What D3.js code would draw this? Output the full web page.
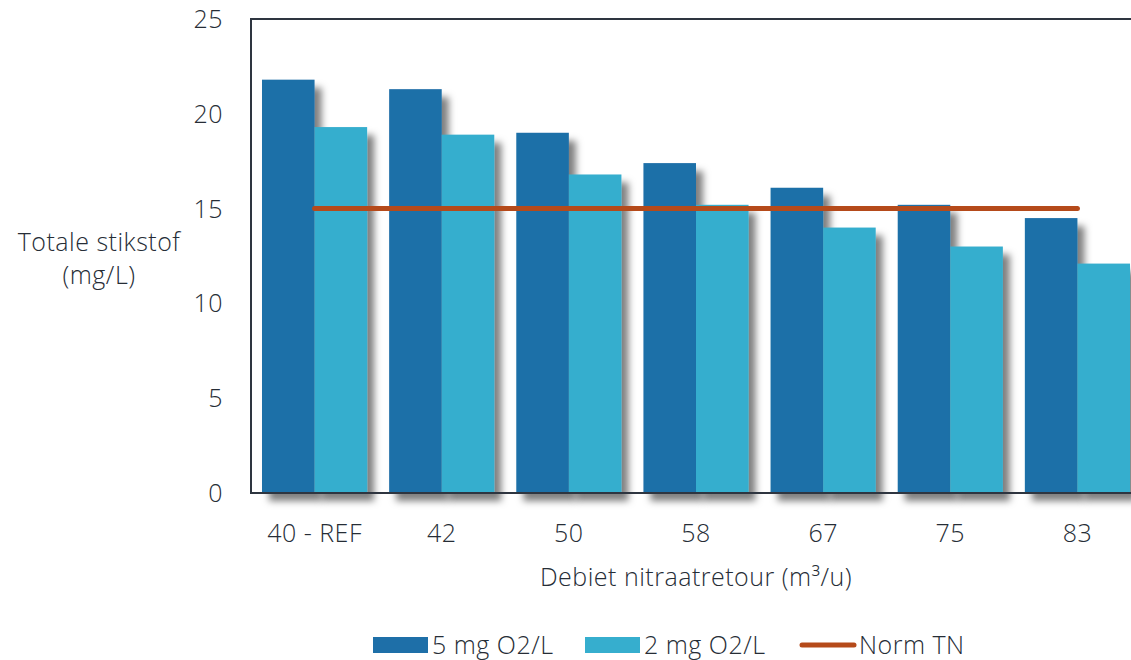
<!DOCTYPE html>
<html>
<head>
<meta charset="utf-8">
<script src="https://cdn.jsdelivr.net/npm/d3@7"></script>
<style>
  html, body { margin: 0; padding: 0; background: #ffffff; }
  svg { display: block; }
  text { font-family: "Open Sans", "Noto Sans", sans-serif; font-weight: 300; fill: #262d36; letter-spacing: 0.5px; }
</style>
</head>
<body>
<svg id="chart" width="1131" height="660"></svg>
<script>
// Flow of the nitrate return and measured total nitrogen per oxygen setpoint
const categories = ["40 - REF", "42", "50", "58", "67", "75", "83"];
const series = ["5 mg O2/L", "2 mg O2/L"];
const values5 = [21.8, 21.3, 19.0, 17.4, 16.1, 15.2, 14.5];
const values2 = [19.3, 18.9, 16.8, 15.2, 14.0, 13.0, 12.1];
const normTN = [15, 15, 15, 15, 15, 15, 15];
const yTicks = [0, 5, 10, 15, 20, 25];

const colors = { "5 mg O2/L": "#1e6fa8", "2 mg O2/L": "#36aece", norm: "#b54a1a" };
const fontSize = "25px";

const svg = d3.select("#chart");

const plot = { left: 251, top: 19, right: 1141, bottom: 493 };

const x0 = d3.scaleBand()
  .domain(categories)
  .range([plot.left, plot.right])
  .paddingInner(0.173)
  .paddingOuter(0.0865);

const x1 = d3.scaleBand()
  .domain(series)
  .range([0, x0.bandwidth()]);

const y = d3.scaleLinear().domain([0, 25]).range([plot.bottom, plot.top]);

// drop shadow used by the bars
const defs = svg.append("defs");
const f = defs.append("filter").attr("id", "shadow")
  .attr("x", "-20%").attr("y", "-10%").attr("width", "160%").attr("height", "130%");
f.append("feDropShadow")
  .attr("dx", 7).attr("dy", 8).attr("stdDeviation", 3.5)
  .attr("flood-color", "#000").attr("flood-opacity", 0.5);

const rows = categories.map((c, i) => ({ cat: c, vals: [values5[i], values2[i]] }));

// bars
const groups = svg.append("g").attr("class", "bars")
  .selectAll("g").data(rows).join("g")
  .attr("transform", d => `translate(${x0(d.cat)},0)`);

groups.selectAll("rect")
  .data(d => d.vals.map((v, j) => ({ key: series[j], v })))
  .join("rect")
  .attr("x", d => x1(d.key))
  .attr("y", d => y(d.v))
  .attr("width", x1.bandwidth())
  .attr("height", d => y(0) - y(d.v))
  .attr("fill", d => colors[d.key])
  .attr("filter", "url(#shadow)");

// frame: left axis, top and bottom borders
const frameColor = "#2e3540";
svg.append("line").attr("x1", plot.left).attr("x2", plot.right)
  .attr("y1", plot.top).attr("y2", plot.top)
  .attr("stroke", frameColor).attr("stroke-width", 2);
svg.append("line").attr("x1", plot.left).attr("x2", plot.right)
  .attr("y1", plot.bottom).attr("y2", plot.bottom)
  .attr("stroke", frameColor).attr("stroke-width", 2);
svg.append("line").attr("x1", plot.left).attr("x2", plot.left)
  .attr("y1", plot.top - 1).attr("y2", plot.bottom + 1)
  .attr("stroke", frameColor).attr("stroke-width", 2);

// norm line through the category centres
const line = d3.line()
  .x((d, i) => x0(categories[i]) + x0.bandwidth() / 2)
  .y(d => y(d));
svg.append("path").datum(normTN)
  .attr("d", line)
  .attr("fill", "none")
  .attr("stroke", colors.norm)
  .attr("stroke-width", 5)
  .attr("stroke-linecap", "round");

// y axis ticks
const yAxis = d3.axisLeft(y).tickValues(yTicks).tickSize(0).tickPadding(0);
const gy = svg.append("g").attr("transform", `translate(${plot.left - 28},0)`).call(yAxis);
gy.select(".domain").remove();
gy.attr("font-family", null).attr("font-size", null);
gy.selectAll("text").style("font-size", fontSize).attr("fill", null).attr("dy", "0.34em");

// x axis labels
const xAxis = d3.axisBottom(x0).tickSize(0).tickPadding(0);
const gx = svg.append("g").attr("transform", `translate(0,${plot.bottom + 40})`).call(xAxis);
gx.select(".domain").remove();
gx.attr("font-family", null).attr("font-size", null);
gx.selectAll("text").style("font-size", fontSize).attr("fill", null).attr("dy", "0.34em");

// axis titles
svg.append("text").attr("x", (plot.left + plot.right) / 2).attr("y", 577)
  .attr("text-anchor", "middle").attr("dy", "0.34em").style("font-size", fontSize)
  .text("Debiet nitraatretour (m³/u)");
const yt = svg.append("text").attr("text-anchor", "middle").style("font-size", fontSize);
yt.append("tspan").attr("x", 99).attr("y", 242).attr("dy", "0.34em").text("Totale stikstof");
yt.append("tspan").attr("x", 99).attr("y", 275).attr("dy", "0.34em").text("(mg/L)");

// legend
const legendItems = [
  { label: "5 mg O2/L", type: "rect", color: colors["5 mg O2/L"], x: 373 },
  { label: "2 mg O2/L", type: "rect", color: colors["2 mg O2/L"], x: 585 },
  { label: "Norm TN", type: "line", color: colors.norm, x: 800 }
];
const lg = svg.append("g").selectAll("g").data(legendItems).join("g")
  .attr("transform", d => `translate(${d.x},645)`);
lg.filter(d => d.type === "rect").append("rect")
  .attr("x", 0).attr("y", -8).attr("width", 55).attr("height", 16)
  .attr("fill", d => d.color);
lg.filter(d => d.type === "line").append("line")
  .attr("x1", 2).attr("x2", 54).attr("y1", 0).attr("y2", 0)
  .attr("stroke", d => d.color).attr("stroke-width", 5).attr("stroke-linecap", "round");
lg.append("text").attr("x", 59).attr("dy", "0.34em").style("font-size", fontSize)
  .text(d => d.label);
</script>
</body>
</html>
